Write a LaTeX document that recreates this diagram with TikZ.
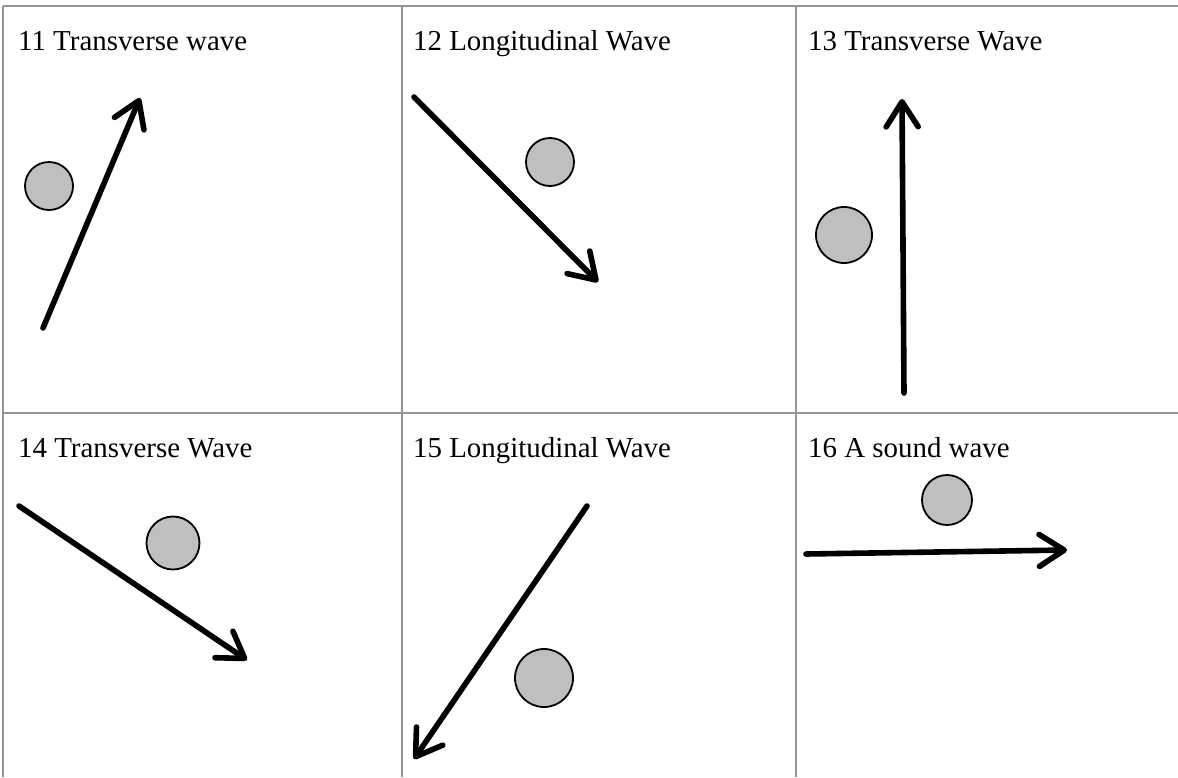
\documentclass[tikz,border=0pt]{standalone}
\usepackage{fontspec}
\setmainfont{Liberation Serif}
\usetikzlibrary{arrows.meta}
\begin{document}
\begin{tikzpicture}[x=1pt,y=-1pt,
  gridline/.style={draw=black!42,line width=1.4pt},
  label/.style={anchor=base west,inner sep=0pt,font=\fontsize{28.9}{30}\selectfont},
  ball/.style={circle,draw=black,line width=1.8pt,fill=black!25,inner sep=0pt},
  wavearrow/.style={line width=5.6pt,line cap=round,-{Straight Barb[length=25pt,width=32pt,round]}}]
\useasboundingbox (0,0) rectangle (1178,777);
% grid
\draw[gridline] (3,6) -- (1178,6);
\draw[gridline] (3,413) -- (1178,413);
\draw[gridline] (3,6) -- (3,777);
\draw[gridline] (402,6) -- (402,777);
\draw[gridline] (796,6) -- (796,777);
% labels
\node[label] (t11) at (18,50) {11 Transverse wave};
\node[label] (t12) at (413,50) {12 Longitudinal Wave};
\node[label] (t13) at (808,50) {13 Transverse Wave};
\node[label] (t14) at (18,457) {14 Transverse Wave};
\node[label] (t15) at (413,457) {15 Longitudinal Wave};
\node[label] (t16) at (808,457) {16 A sound wave};
% balls
\node[ball,minimum size=48pt] (b11) at (49,186) {};
\node[ball,minimum size=48pt] (b12) at (550,162) {};
\node[ball,minimum size=56pt] (b13) at (844,235) {};
\node[ball,minimum size=53pt] (b14) at (173,543) {};
\node[ball,minimum size=58pt] (b15) at (544,678) {};
\node[ball,minimum size=50pt] (b16) at (947,500) {};
% arrow ends
\coordinate (a11s) at (43,328);  \coordinate (a11e) at (140,98);
\coordinate (a12s) at (414,97);  \coordinate (a12e) at (598,282);
\coordinate (a13s) at (904,393); \coordinate (a13e) at (902,99);
\coordinate (a14s) at (19,506);  \coordinate (a14e) at (247,660);
\coordinate (a15s) at (587,506); \coordinate (a15e) at (414,759);
\coordinate (a16s) at (806,554); \coordinate (a16e) at (1067,550);
\draw[wavearrow] (a11s) -- (a11e);
\draw[wavearrow] (a12s) -- (a12e);
\draw[wavearrow] (a13s) -- (a13e);
\draw[wavearrow] (a14s) -- (a14e);
\draw[wavearrow] (a15s) -- (a15e);
\draw[wavearrow] (a16s) -- (a16e);
\end{tikzpicture}
\end{document}
